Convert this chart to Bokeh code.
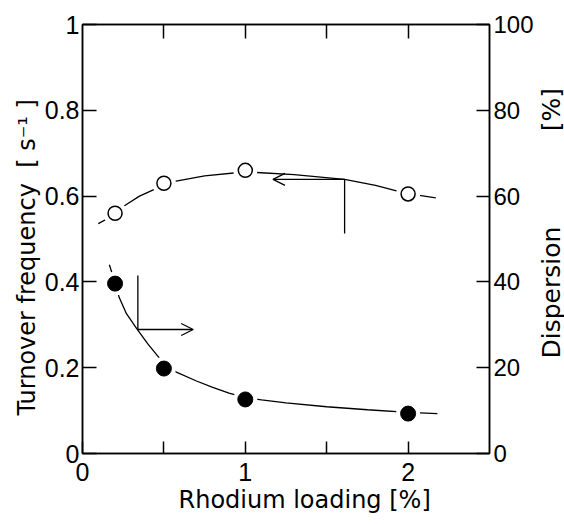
import math
from bokeh.plotting import figure
from bokeh.layouts import row
from bokeh.models import Range1d, LinearAxis, FixedTicker, Title, Arrow, OpenHead, Label
from bokeh.embed import file_html
from bokeh.resources import INLINE

# ---- data ----
rh_loading = [0.2, 0.5, 1.0, 2.0]
turnover_freq = [0.56, 0.63, 0.66, 0.605]      # s^-1, left axis
dispersion = [39.6, 19.8, 12.6, 9.3]           # %, right axis

tof_curve_x = [0.097, 0.2, 0.26, 0.35, 0.455, 0.5, 0.55, 0.75, 0.96, 1.0, 1.07, 1.3, 1.61, 1.8, 1.97, 2.0, 2.17]
tof_curve_y = [0.536, 0.557, 0.578, 0.600, 0.618, 0.626, 0.633, 0.647, 0.655, 0.656, 0.655, 0.650, 0.639, 0.625, 0.608, 0.606, 0.596]

disp_curve_x = [0.165, 0.2, 0.225, 0.27, 0.333, 0.4, 0.46, 0.5, 0.58, 0.7, 0.8, 0.9, 1.0, 1.1, 1.25, 1.5, 1.75, 2.0, 2.18]
disp_curve_y = [44.0, 39.8, 36.4, 32.6, 29.1, 25.6, 22.8, 21.0, 18.9, 16.9, 15.4, 14.1, 13.0, 12.5, 11.8, 10.9, 10.2, 9.6, 9.3]

x_ticks = [0, 1, 2]
x_minor_ticks = [0.5, 1.5]
top_ticks = [0.5, 1, 1.5, 2]
tof_ticks = [0, 0.2, 0.4, 0.6, 0.8, 1.0]
tof_tick_labels = ["0", "0.2", "0.4", "0.6", "0.8", "1"]
disp_ticks = [0, 20, 40, 60, 80, 100]

NB = "\u00a0"
x_title = "Rhodium loading [%]"
tof_title = "Turnover frequency" + NB * 2 + "[" + NB + "s\u207b\u00b9" + NB + "]"
disp_title = "Dispersion" + NB * 12 + "[%]"

# arrows pointing to the axis each curve belongs to
tof_arrow = dict(x_corner=1.61, y_tail=0.513, y_corner=0.639, x_tip=1.17)
disp_arrow = dict(x_corner=0.34, y_tail=41.5, y_corner=28.9, x_tip=0.68)

TICK_FONT = "Liberation Sans"
TITLE_FONT = "DejaVu Sans"

p = figure(width=536, height=524,
           min_border_left=82, min_border_right=44, min_border_top=24, min_border_bottom=71,
           x_range=Range1d(0, 2.5), y_range=Range1d(0, 1),
           output_backend="svg", toolbar_location=None)
p.extra_y_ranges = {"disp": Range1d(0, 100)}
p.xgrid.visible = False
p.ygrid.visible = False
p.background_fill_color = "white"
p.border_fill_color = "white"
p.outline_line_color = "black"
p.outline_line_width = 1.5


def style_axis(ax, tick_len=13):
    ax.axis_line_color = "black"
    ax.axis_line_width = 1.5
    ax.major_tick_line_color = "black"
    ax.major_tick_line_width = 1.5
    ax.major_tick_in = tick_len
    ax.major_tick_out = 0
    ax.minor_tick_line_color = "black"
    ax.minor_tick_line_width = 1.5
    ax.minor_tick_in = tick_len
    ax.minor_tick_out = 0
    ax.major_label_text_font = TICK_FONT
    ax.major_label_text_font_size = "25px"
    ax.major_label_text_color = "black"


# bottom axis
xa = p.xaxis[0]
xa.ticker = FixedTicker(ticks=x_ticks, minor_ticks=x_minor_ticks)
style_axis(xa, 12)
xa.major_label_standoff = 9

# left axis
ya = p.yaxis[0]
ya.ticker = FixedTicker(ticks=tof_ticks)
ya.major_label_overrides = {t: s for t, s in zip(tof_ticks, tof_tick_labels)}
style_axis(ya, 14)
ya.minor_tick_line_color = None
ya.major_label_standoff = 3

# top axis (ticks only)
top = LinearAxis(ticker=FixedTicker(ticks=top_ticks))
style_axis(top, 14)
top.major_label_overrides = {t: "" for t in top_ticks}
top.major_label_standoff = 0
top.minor_tick_line_color = None
p.add_layout(top, "above")

# right axis
ra = LinearAxis(y_range_name="disp", ticker=FixedTicker(ticks=disp_ticks))
style_axis(ra, 13)
ra.major_label_text_font_size = "24px"
ra.minor_tick_line_color = None
ra.major_label_standoff = 4
p.add_layout(ra, "right")

# left and bottom titles
p.add_layout(Title(text=tof_title, align="left", offset=38,
                   standoff=2, text_font=TITLE_FONT, text_font_size="24px",
                   text_font_style="normal", text_color="black"), "left")
p.add_layout(Title(text=x_title, align="left", offset=96,
                   standoff=0, text_font=TITLE_FONT, text_font_size="24px",
                   text_font_style="normal", text_color="black"), "below")

# curves
p.line(tof_curve_x, tof_curve_y, line_color="black", line_width=1.3)
p.line(disp_curve_x, disp_curve_y, y_range_name="disp", line_color="black", line_width=1.3)

# white halos to leave gaps around the markers
p.scatter(rh_loading, turnover_freq, size=24, fill_color="white", line_color=None)
p.scatter(rh_loading, dispersion, y_range_name="disp", size=24, fill_color="white", line_color=None)

# markers
p.scatter(rh_loading, turnover_freq, size=14, fill_color="white", line_color="black", line_width=1.5)
p.scatter(rh_loading, dispersion, y_range_name="disp", size=15, fill_color="black", line_color="black")

# arrows
p.add_layout(Arrow(end=None, x_start=tof_arrow["x_corner"], y_start=tof_arrow["y_tail"],
                   x_end=tof_arrow["x_corner"], y_end=tof_arrow["y_corner"],
                   line_color="black", line_width=1.3))
p.add_layout(Arrow(end=OpenHead(size=12, line_width=1.3, line_color="black"),
                   x_start=tof_arrow["x_corner"], y_start=tof_arrow["y_corner"],
                   x_end=tof_arrow["x_tip"], y_end=tof_arrow["y_corner"],
                   line_color="black", line_width=1.3))
p.add_layout(Arrow(end=None, x_start=disp_arrow["x_corner"], y_start=disp_arrow["y_tail"],
                   x_end=disp_arrow["x_corner"], y_end=disp_arrow["y_corner"],
                   y_range_name="disp", line_color="black", line_width=1.3))
p.add_layout(Arrow(end=OpenHead(size=12, line_width=1.3, line_color="black"),
                   x_start=disp_arrow["x_corner"], y_start=disp_arrow["y_corner"],
                   x_end=disp_arrow["x_tip"], y_end=disp_arrow["y_corner"],
                   y_range_name="disp", line_color="black", line_width=1.3))

# narrow strip holding the right-hand axis title (reads bottom to top)
strip = figure(width=28, height=524, x_range=Range1d(0, 1), y_range=Range1d(0, 1),
               x_axis_type=None, y_axis_type=None,
               min_border_left=0, min_border_right=0, min_border_top=0, min_border_bottom=0,
               output_backend="svg", toolbar_location=None)
strip.grid.visible = False
strip.outline_line_color = None
strip.background_fill_color = "white"
strip.border_fill_color = "white"
strip.add_layout(Label(x=15, y=95, x_units="screen", y_units="screen",
                       text=disp_title, angle=math.pi / 2,
                       text_align="left", text_baseline="middle",
                       text_font=TITLE_FONT, text_font_size="25px", text_color="black"))

layout = row(p, strip, spacing=0)
open("out.html", "w").write(file_html(layout, INLINE))
